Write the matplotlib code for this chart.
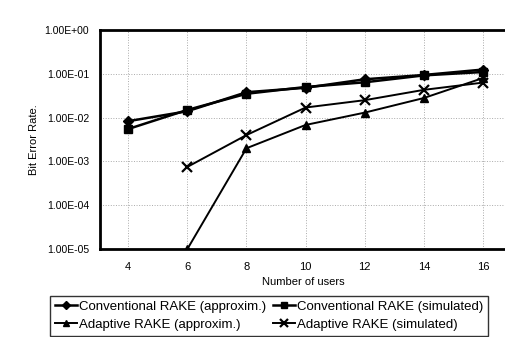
import math
import matplotlib.pyplot as plt
from matplotlib.ticker import FixedLocator, FuncFormatter

plt.rcParams['font.family'] = ['Liberation Sans', 'DejaVu Sans']

users = [4, 6, 8, 10, 12, 14, 16]
conv_approx = [0.0083, 0.014, 0.038, 0.048, 0.075, 0.094, 0.125]
conv_sim = [0.0055, 0.015, 0.035, 0.05, 0.064, 0.092, 0.11]
adapt_approx_x = [6, 8, 10, 12, 14, 16]
adapt_approx = [1e-5, 0.002, 0.0068, 0.013, 0.028, 0.08]
adapt_sim_x = [6, 8, 10, 12, 14, 16]
adapt_sim = [0.00075, 0.004, 0.017, 0.025, 0.043, 0.063]

fig = plt.figure(figsize=(5.06, 3.37), dpi=100)
ax = fig.add_axes([0.198, 0.261, 0.802, 0.65])

l1, = ax.plot(users, conv_approx, color='black', lw=1.8, marker='D', ms=5,
              label='Conventional RAKE (approxim.)')
l2, = ax.plot(users, conv_sim, color='black', lw=1.8, marker='s', ms=5.5,
              label='Conventional RAKE (simulated)')
l3, = ax.plot(adapt_approx_x, adapt_approx, color='black', lw=1.4, marker='^', ms=5.5,
              label='Adaptive RAKE (approxim.)')
l4, = ax.plot(adapt_sim_x, adapt_sim, color='black', lw=1.4, marker='x', ms=6.5, mew=1.6,
              label='Adaptive RAKE (simulated)')

ax.set_yscale('log')
ax.set_ylim(1e-5, 1)
ax.set_xlim(3.05, 16.78)
ax.set_xticks(users)
ax.yaxis.set_major_locator(FixedLocator([1e-5, 1e-4, 1e-3, 1e-2, 1e-1, 1]))
ax.yaxis.set_minor_locator(FixedLocator([]))
ax.yaxis.set_major_formatter(FuncFormatter(
    lambda v, p: '1.00E%s%02d' % ('+' if v >= 1 else '-', abs(round(math.log10(v))))))
ax.tick_params(axis='y', length=0, labelsize=7.5, pad=8)
ax.tick_params(axis='x', length=0, labelsize=8, pad=9)
ax.grid(True, which='major', ls=':', color='#aaaaaa', lw=0.7)
for s in ax.spines.values():
    s.set_linewidth(2.0)
ax.spines['right'].set_visible(False)

ax.set_xlabel('Number of users', fontsize=8, labelpad=4)
ax.set_ylabel('Bit Error Rate.', fontsize=8, labelpad=4)

leg = fig.legend([l1, l3, l2, l4], [l1.get_label(), l3.get_label(), l2.get_label(), l4.get_label()],
                 loc='upper left', bbox_to_anchor=(50 / 506, 1 - 296 / 337),
                 ncol=2, fontsize=9.5, frameon=True, fancybox=False, edgecolor='black',
                 handlelength=1.7, handletextpad=0.15, columnspacing=0.5, borderpad=0.35,
                 labelspacing=0.45, borderaxespad=0, markerscale=0.8)
leg.get_frame().set_linewidth(1.0)

fig.savefig('out.png', dpi=100)
